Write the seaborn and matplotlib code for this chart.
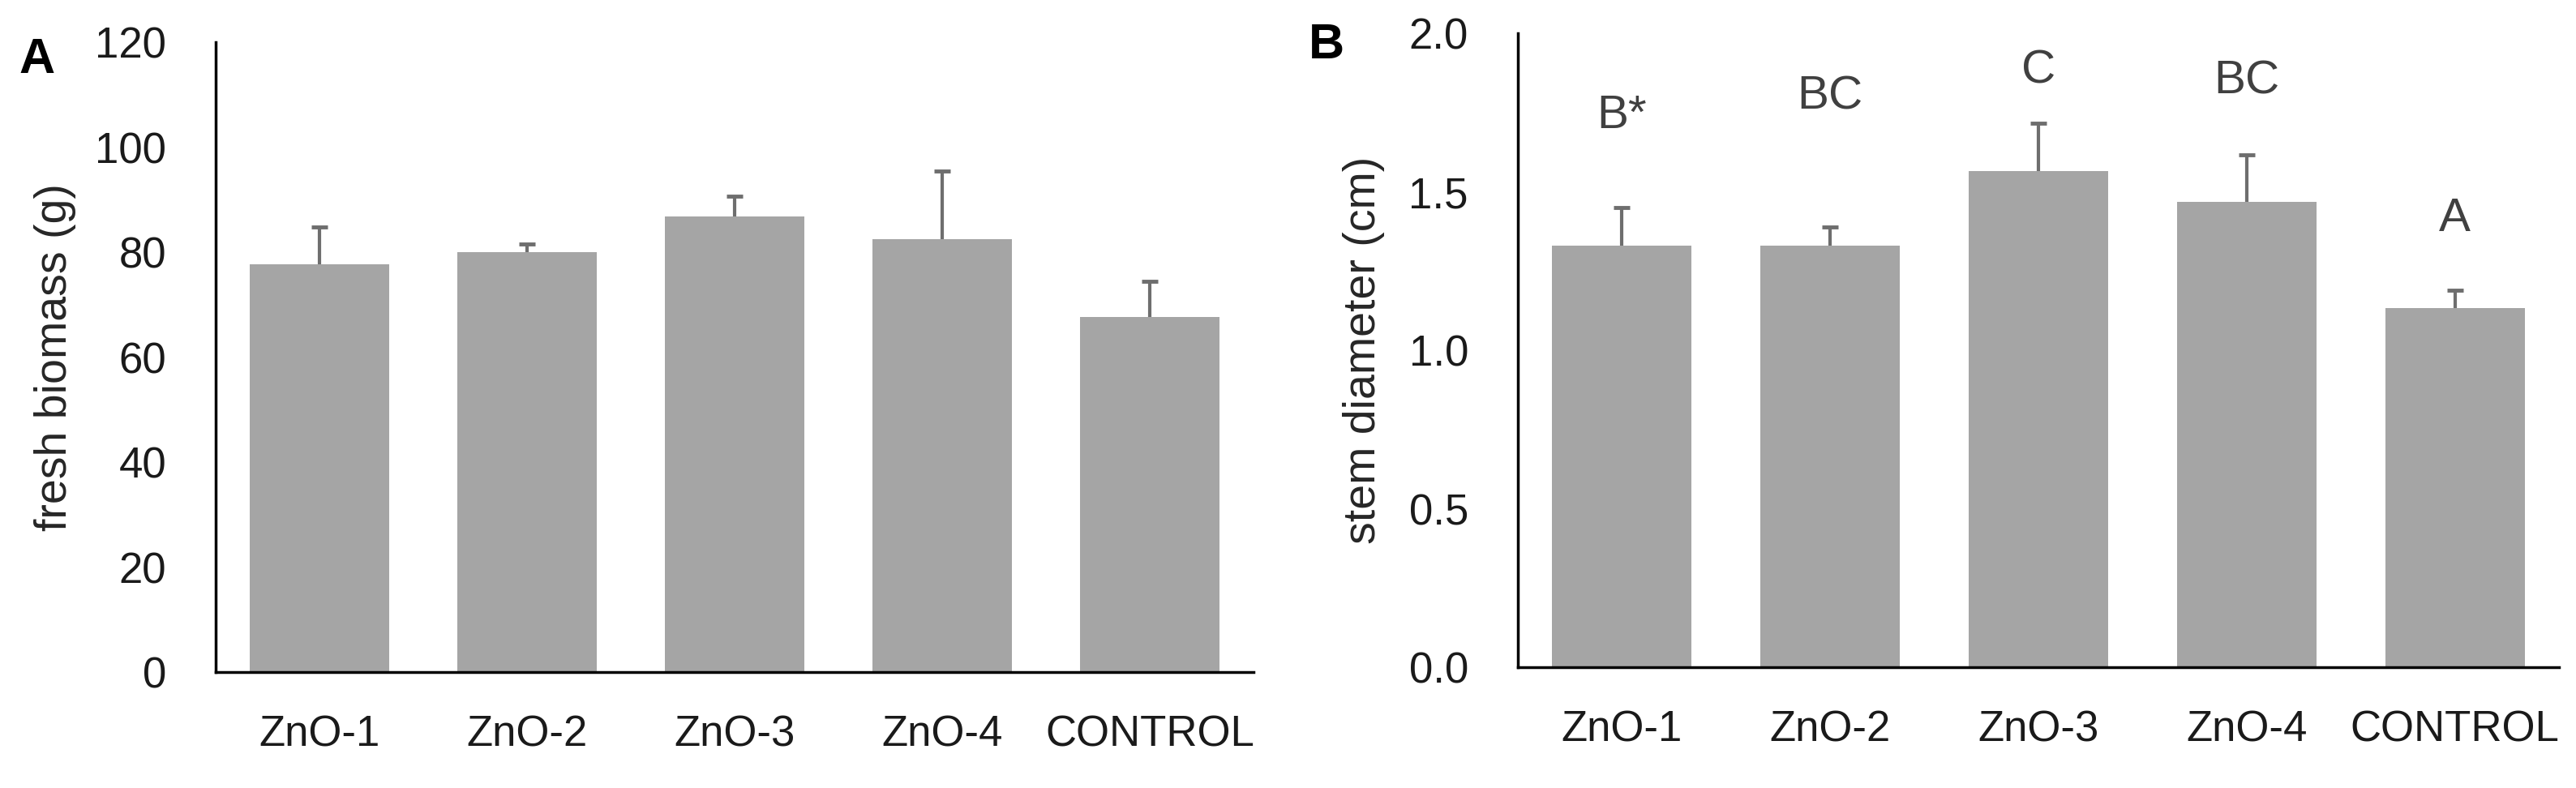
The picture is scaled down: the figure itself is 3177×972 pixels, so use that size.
import matplotlib
matplotlib.use("Agg")
import matplotlib.pyplot as plt
import seaborn as sns
import numpy as np
import pandas as pd

# ---- data ----
categories = ["ZnO-1", "ZnO-2", "ZnO-3", "ZnO-4", "CONTROL"]
biomass = [77.7, 80.0, 86.8, 82.5, 67.6]
biomass_err = [7.1, 1.5, 3.9, 12.9, 6.8]
diameter = [1.33, 1.33, 1.566, 1.467, 1.133]
diameter_err = [0.12, 0.06, 0.151, 0.150, 0.055]
diameter_letters = ["B*", "BC", "C", "BC", "A"]
letter_y = [1.739, 1.798, 1.882, 1.849, 1.414]

A_ticks = [0, 20, 40, 60, 80, 100, 120]
B_ticks = [0.0, 0.5, 1.0, 1.5, 2.0]

sns.set_theme(style="white")
plt.rcParams["font.family"] = ["Liberation Sans", "DejaVu Sans"]

W, H = 3177, 972
fig = plt.figure(figsize=(W / 100, H / 100), dpi=100)
fig.patch.set_facecolor("white")

axA = fig.add_axes([266 / W, (H - 829) / H, 1280 / W, 777 / H])
axB = fig.add_axes([1872 / W, (H - 823) / H, 1284 / W, 782 / H])

bar_color = "#A5A5A5"
err_color = "#6E6E6E"
tick_fs = 38
label_fs = 40

def draw(ax, vals, errs, ticks, ylim, ylabel, fmt, labelx):
    df = pd.DataFrame({"cat": categories, "val": vals})
    sns.barplot(data=df, x="cat", y="val", color=bar_color, saturation=1,
                width=0.67, errorbar=None, ax=ax, linewidth=0)
    xs = np.arange(len(categories))
    _, caps, _ = ax.errorbar(xs, vals, yerr=[np.zeros(len(vals)), errs], fmt="none",
                             ecolor=err_color, elinewidth=3, capsize=7.5, capthick=3.5)
    for c in caps:
        if np.allclose(c.get_ydata(), vals):
            c.set_visible(False)
    ax.set_ylim(*ylim)
    ax.set_xlim(-0.5, len(categories) - 0.5)
    ax.set_yticks(ticks)
    ax.set_yticklabels([fmt.format(t) for t in ticks])
    ax.set_xlabel("")
    ax.set_ylabel(ylabel, fontsize=label_fs, color="#262626")
    ax.yaxis.set_label_coords(labelx, 0.5)
    for s in ["top", "right"]:
        ax.spines[s].set_visible(False)
    for s in ["left", "bottom"]:
        ax.spines[s].set_color("black")
        ax.spines[s].set_linewidth(2.5)
    ax.tick_params(axis="y", length=0, pad=44, labelsize=tick_fs, labelcolor="#1a1a1a")
    ax.tick_params(axis="x", length=0, pad=38, labelsize=tick_fs, labelcolor="#1a1a1a")
    ax.grid(False)
    ax.set_facecolor("white")

draw(axA, biomass, biomass_err, A_ticks, (0, 120), "fresh biomass (g)", "{:d}", -0.134)
draw(axB, diameter, diameter_err, B_ticks, (0, 2.0), "stem diameter (cm)", "{:.1f}", -0.128)

for i, (lab, yy) in enumerate(zip(diameter_letters, letter_y)):
    axB.text(i, yy, lab, ha="center", va="center", fontsize=42, color="#404040")

fig.text(23 / W, 1 - 75 / H, "A", fontsize=44, fontweight="bold", ha="left", va="center", color="black")
fig.text(1614 / W, 1 - 56 / H, "B", fontsize=44, fontweight="bold", ha="left", va="center", color="black")

fig.savefig("out.png", dpi=100, facecolor="white")
